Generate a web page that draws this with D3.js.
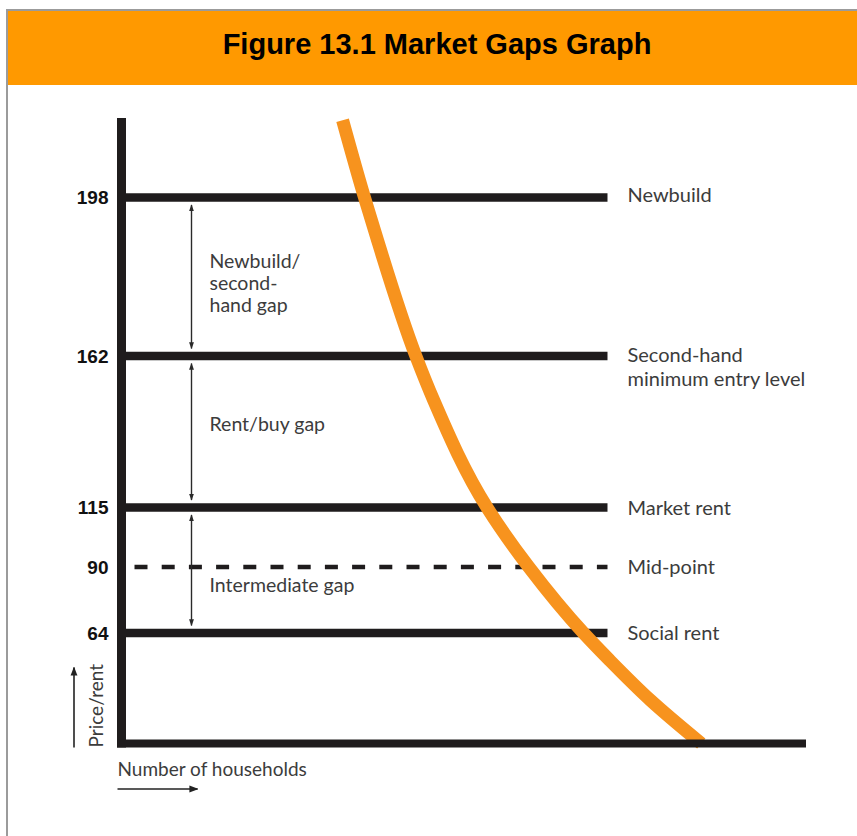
<!DOCTYPE html>
<html>
<head>
<meta charset="utf-8">
<script src="https://cdn.jsdelivr.net/npm/d3@7"></script>
<style>
  html, body { margin: 0; padding: 0; background: #fff; }
  svg { display: block; }
</style>
</head>
<body>
<svg id="chart" width="857" height="836"></svg>
<script>
// Price / rent levels marked on the vertical axis
const levelValues = [198, 162, 115, 90, 64];
const levelNames = [
  ["Newbuild"],
  ["Second-hand", "minimum entry level"],
  ["Market rent"],
  ["Mid-point"],
  ["Social rent"]
];
const tickLabels = ["198", "162", "115", "90", "64"];

// Gaps between neighbouring levels
const gapLow = [162, 115, 64];
const gapHigh = [198, 162, 115];
const gapLabels = [
  ["Newbuild/", "second-", "hand gap"],
  ["Rent/buy gap"],
  ["Intermediate gap"]
];

// Demand curve: number of households against price
const curveHouseholds = [32.3, 35.5, 37.4, 43.0, 45.6, 53.4, 59.5, 67.5, 71.3, 77.3, 84.7];
const curvePrice = [215.5, 198, 188.3, 162, 148.3, 115, 90, 64, 48.3, 25.0, 0];

const title = "Figure 13.1 Market Gaps Graph";
const yAxisTitle = "Price/rent";
const xAxisTitle = "Number of households";

// ---- layout ----
const svg = d3.select("#chart");
const W = 857;

const x = d3.scaleLinear().domain([0, 100]).range([121.5, 806]);
// Schematic price axis: the levels are spaced for legibility, not proportionally
const y = d3.scaleLinear()
  .domain([0, 64, 90, 115, 162, 198, 216])
  .range([743.5, 633, 567, 507.5, 356, 197.5, 118]);

const levelEnd = 71;          // households where the level bars stop
const midpoint = 90;          // drawn dashed
const darkInk = "#1f1c1d";
const textInk = "#3c3c3c";
const orange = "#f7931e";
const bodyFont = "Lato, 'Open Sans', sans-serif";

// frame + header
svg.append("rect")
  .attr("x", 7).attr("y", 10).attr("width", W + 10).attr("height", 840)
  .attr("fill", "#fff").attr("stroke", "#9b9b9b").attr("stroke-width", 2);
svg.append("rect")
  .attr("x", 8).attr("y", 11).attr("width", W).attr("height", 74)
  .attr("fill", "#ff9900");
svg.append("text")
  .attr("x", 437).attr("y", 54)
  .attr("text-anchor", "middle")
  .attr("font-family", "'Liberation Sans', Arial, sans-serif")
  .attr("font-weight", "bold")
  .attr("font-size", 29)
  .attr("fill", "#000")
  .text(title);

// level bars
const levels = levelValues.map((v, i) => ({ v, name: levelNames[i], tick: tickLabels[i] }));

svg.append("g").selectAll("line")
  .data(levels)
  .join("line")
  .attr("x1", d => d.v === midpoint ? x(0) + 13 : x(0))
  .attr("x2", x(levelEnd))
  .attr("y1", d => y(d.v))
  .attr("y2", d => y(d.v))
  .attr("stroke", darkInk)
  .attr("stroke-width", d => d.v === midpoint ? 4.5 : 8.5)
  .attr("stroke-dasharray", d => d.v === midpoint ? "13,14.2" : null);

// tick labels
svg.append("g").selectAll("text")
  .data(levels)
  .join("text")
  .attr("x", x(0) - 13)
  .attr("y", d => y(d.v))
  .attr("dy", "0.36em")
  .attr("text-anchor", "end")
  .attr("font-family", "'Liberation Sans', Arial, sans-serif")
  .attr("font-weight", "bold")
  .attr("font-size", 19)
  .attr("fill", "#111")
  .text(d => d.tick);

// level names on the right
const nameSize = 20;
const nameG = svg.append("g")
  .attr("font-family", bodyFont)
  .attr("font-size", nameSize)
  .attr("fill", textInk);
levels.forEach(d => {
  d.name.forEach((line, j) => {
    nameG.append("text")
      .attr("x", x(levelEnd) + 20)
      .attr("y", (d.v === 198 ? y(d.v) + 4.5 : y(d.v) + 7) + (d.name.length > 1 ? -1 : 0) + j * 23.5)
      .text(line);
  });
});

// gap arrows
const defs = svg.append("defs");
defs.append("marker")
  .attr("id", "gapHead")
  .attr("viewBox", "0 0 10 10")
  .attr("refX", 9).attr("refY", 5)
  .attr("markerWidth", 7).attr("markerHeight", 7)
  .attr("markerUnits", "userSpaceOnUse")
  .attr("orient", "auto-start-reverse")
  .append("path").attr("d", "M0,1.5 L10,5 L0,8.5 Z").attr("fill", "#2a2a2a");
defs.append("marker")
  .attr("id", "axisHead")
  .attr("viewBox", "0 0 10 10")
  .attr("refX", 9).attr("refY", 5)
  .attr("markerWidth", 9).attr("markerHeight", 9)
  .attr("markerUnits", "userSpaceOnUse")
  .attr("orient", "auto")
  .append("path").attr("d", "M0,1.2 L10,5 L0,8.8 Z").attr("fill", "#222");

const gaps = gapLow.map((lo, i) => ({ lo, hi: gapHigh[i], label: gapLabels[i] }));
const arrowX = x(0) + 70;
const gapNudge = [6.5, -7.5, 17];   // vertical label offsets from each gap's middle

svg.append("g").selectAll("line")
  .data(gaps)
  .join("line")
  .attr("x1", arrowX).attr("x2", arrowX)
  .attr("y1", d => y(d.hi) + 7.5)
  .attr("y2", d => y(d.lo) - 7.5)
  .attr("stroke", "#2a2a2a")
  .attr("stroke-width", 1.4)
  .attr("marker-start", "url(#gapHead)")
  .attr("marker-end", "url(#gapHead)");

const gapSize = 19.5;
const gapG = svg.append("g")
  .attr("font-family", bodyFont)
  .attr("font-size", gapSize)
  .attr("fill", textInk);
gaps.forEach((d, i) => {
  const n = d.label.length;
  const lineH = 22;
  const cy = y((d.lo + d.hi) / 2) + gapNudge[i];
  const top = cy - (n - 1) * lineH / 2 + 7;
  d.label.forEach((line, j) => {
    gapG.append("text")
      .attr("x", arrowX + 18)
      .attr("y", top + j * lineH)
      .text(line);
  });
});

// demand curve
const curvePts = curveHouseholds.map((h, i) => [h, curvePrice[i]]);
svg.append("path")
  .datum(curvePts)
  .attr("d", d3.line()
    .x(d => x(d[0]))
    .y(d => y(d[1]))
    .curve(d3.curveMonotoneY))
  .attr("fill", "none")
  .attr("stroke", orange)
  .attr("stroke-width", 13)
  .attr("stroke-linecap", "butt");

// axes
svg.append("line")
  .attr("x1", x(0)).attr("x2", x(0))
  .attr("y1", y(216)).attr("y2", y(0) + 4)
  .attr("stroke", darkInk).attr("stroke-width", 9);
svg.append("line")
  .attr("x1", x(0) - 4.5).attr("x2", x(100))
  .attr("y1", y(0)).attr("y2", y(0))
  .attr("stroke", darkInk).attr("stroke-width", 8);

// axis titles with direction arrows
svg.append("text")
  .attr("transform", `translate(${x(0) - 18.5},${y(0) + 4}) rotate(-90)`)
  .attr("font-family", bodyFont)
  .attr("font-size", 19)
  .attr("fill", textInk)
  .text(yAxisTitle);
svg.append("line")
  .attr("x1", x(0) - 47.5).attr("x2", x(0) - 47.5)
  .attr("y1", y(0) + 4).attr("y2", y(0) - 76)
  .attr("stroke", "#222").attr("stroke-width", 1.6)
  .attr("marker-end", "url(#axisHead)");

svg.append("text")
  .attr("x", x(0) - 4)
  .attr("y", y(0) + 32)
  .attr("font-family", bodyFont)
  .attr("font-size", 19)
  .attr("fill", textInk)
  .text(xAxisTitle);
svg.append("line")
  .attr("x1", x(0) - 4).attr("x2", x(0) + 76)
  .attr("y1", y(0) + 45.5).attr("y2", y(0) + 45.5)
  .attr("stroke", "#222").attr("stroke-width", 1.6)
  .attr("marker-end", "url(#axisHead)");
</script>
</body>
</html>
